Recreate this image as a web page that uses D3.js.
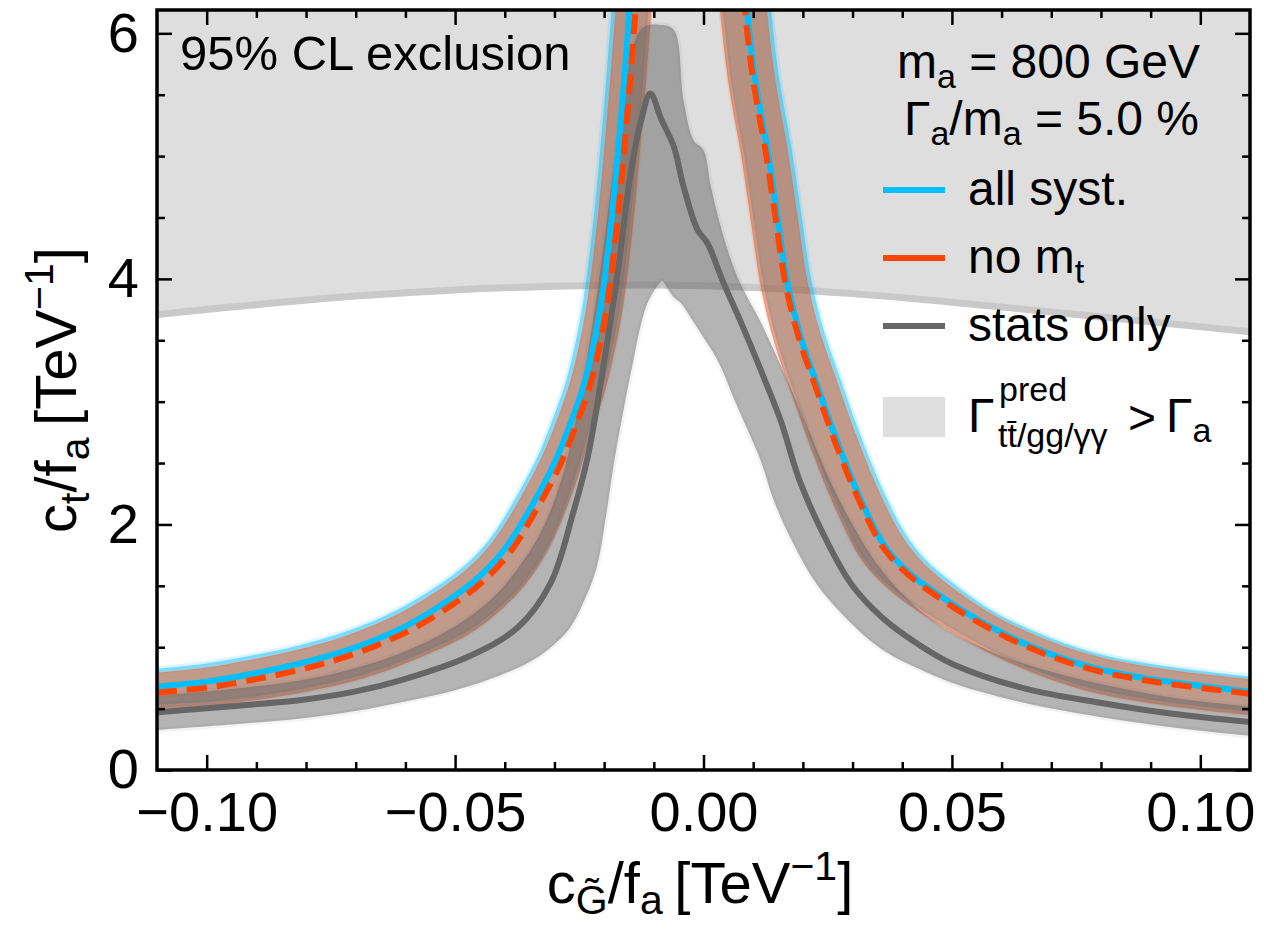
<!DOCTYPE html>
<html>
<head>
<meta charset="utf-8">
<script src="https://cdn.jsdelivr.net/npm/d3@7"></script>
<style>
  html, body { margin: 0; padding: 0; background: #fff; }
  svg text { font-family: "Liberation Sans", Arial, Helvetica, sans-serif; fill: #000; }
</style>
</head>
<body>
<svg id="chart" width="1280" height="928"></svg>
<script>
// ---- axes ----
const xDomain = [-0.11, 0.11];
const yDomain = [0, 6.19];
const xMajorTicks = [-0.10, -0.05, 0.00, 0.05, 0.10];
const xTickLabels = ["\u22120.10", "\u22120.05", "0.00", "0.05", "0.10"];
const xMinorTicks = [-0.09, -0.08, -0.07, -0.06, -0.04, -0.03, -0.02, -0.01,
                     0.01, 0.02, 0.03, 0.04, 0.06, 0.07, 0.08, 0.09];
const yMajorTicks = [0, 2, 4, 6];
const yTickLabels = ["0", "2", "4", "6"];
const yMinorTicks = [0.5, 1, 1.5, 2.5, 3, 3.5, 4.5, 5, 5.5];

// ---- region where the predicted width exceeds Gamma_a (lower boundary) ----
const widthLimit = [[-0.110,3.71],[-0.090,3.79],[-0.070,3.86],[-0.050,3.91],[-0.030,3.94],
  [-0.010,3.95],[0.010,3.93],[0.030,3.88],[0.050,3.81],[0.070,3.73],[0.090,3.65],[0.110,3.57]];

// ---- all syst.: central contour and band edges, c_G/f_a < 0 branch ----
const allSystLeft = [[-0.110,0.68],[-0.100,0.72],[-0.090,0.79],[-0.080,0.88],[-0.070,1.00],
  [-0.060,1.17],[-0.050,1.42],[-0.045,1.58],[-0.040,1.80],[-0.035,2.12],[-0.030,2.50],
  [-0.027,2.80],[-0.024,3.15],[-0.021,3.70],[-0.019,4.30],[-0.0175,4.90],[-0.016,5.60],[-0.0147,6.30]];
const allSystLeftHi = [[-0.112,0.818],[-0.1005,0.866],[-0.0907,0.934],[-0.0809,1.021],[-0.0712,1.139],
  [-0.0617,1.303],[-0.0521,1.540],[-0.0475,1.686],[-0.0429,1.888],[-0.0381,2.194],[-0.0333,2.561],
  [-0.0304,2.852],[-0.0275,3.190],[-0.0246,3.725],[-0.0226,4.316],[-0.0211,4.916],[-0.0196,5.615],[-0.0183,6.31]];
const allSystLeftLo = [[-0.112,0.53],[-0.0994,0.555],[-0.0892,0.605],[-0.0789,0.675],[-0.0685,0.775],
  [-0.0580,0.93],[-0.0475,1.13],[-0.0420,1.29],[-0.0365,1.51],[-0.0312,1.83],[-0.0265,2.30],
  [-0.0235,2.70],[-0.0203,3.105],[-0.0172,3.671],[-0.0152,4.279],[-0.0137,4.886],[-0.0122,5.588],[-0.0109,6.286]];

// ---- all syst., c_G/f_a > 0 branch ----
const allSystRight = [[0.00845,6.311],[0.00986,5.782],[0.01107,5.456],[0.01288,5.049],[0.01489,4.503],
  [0.01690,3.966],[0.01952,3.534],[0.02294,3.127],[0.02757,2.606],[0.03199,2.174],[0.03662,1.816],
  [0.04165,1.596],[0.04769,1.417],[0.05573,1.213],[0.06579,1.010],[0.07787,0.839],[0.08994,0.741],
  [0.10201,0.676],[0.11046,0.635]];
const allSystRightHi = [[0.01326,6.332],[0.01465,5.806],[0.01584,5.488],[0.01765,5.081],[0.01966,4.533],
  [0.02165,4.002],[0.02416,3.588],[0.02751,3.191],[0.03207,2.676],[0.03638,2.257],[0.04072,1.919],
  [0.04477,1.711],[0.04982,1.535],[0.05710,1.322],[0.06678,1.126],[0.07855,0.958],[0.09044,0.862],
  [0.10239,0.797],[0.11200,0.755]];
const allSystRightLo = [[0.00366,6.287],[0.00507,5.755],[0.00631,5.420],[0.00813,5.013],[0.01012,4.470],
  [0.01217,3.925],[0.01489,3.474],[0.01841,3.055],[0.02309,2.527],[0.02766,2.081],[0.03261,1.700],
  [0.03839,1.464],[0.04473,1.282],[0.05354,1.069],[0.06423,0.855],[0.07676,0.678],[0.08913,0.578],
  [0.10141,0.512],[0.11200,0.468]];

// ---- no m_t: central contour and band edges ----
const noMtLeft = [[-0.110,0.631],[-0.0998,0.672],[-0.0898,0.742],[-0.0797,0.832],[-0.0696,0.956],
  [-0.0595,1.129],[-0.0493,1.380],[-0.0442,1.544],[-0.0390,1.770],[-0.0340,2.095],[-0.0289,2.480],
  [-0.0259,2.784],[-0.0228,3.138],[-0.0198,3.692],[-0.0178,4.294],[-0.0163,4.897],[-0.0148,5.598],[-0.0135,6.295]];
const noMtLeftHi = [[-0.112,0.785],[-0.1004,0.832],[-0.0905,0.902],[-0.0807,0.989],[-0.0709,1.108],
  [-0.0613,1.274],[-0.0516,1.513],[-0.0469,1.663],[-0.0423,1.868],[-0.0374,2.177],[-0.0326,2.547],
  [-0.0296,2.841],[-0.0267,3.182],[-0.0238,3.719],[-0.0218,4.313],[-0.0203,4.913],[-0.0188,5.612],[-0.0175,6.31]];
const noMtLeftLo = [[-0.112,0.50],[-0.0994,0.525],[-0.0892,0.575],[-0.0789,0.645],[-0.0685,0.745],
  [-0.0580,0.90],[-0.0475,1.10],[-0.0420,1.26],[-0.0365,1.48],[-0.0312,1.80],[-0.0260,2.30],
  [-0.0229,2.70],[-0.0197,3.105],[-0.0166,3.671],[-0.0146,4.279],[-0.0131,4.886],[-0.0116,5.588],[-0.0103,6.286]];
const noMtRight = [[0.00805,6.309],[0.00946,5.780],[0.01066,5.454],[0.01247,5.046],[0.01449,4.501],
  [0.01650,3.963],[0.01913,3.529],[0.02256,3.121],[0.02718,2.600],[0.03163,2.168],[0.03628,1.807],
  [0.04135,1.586],[0.04744,1.403],[0.05555,1.198],[0.06565,0.995],[0.07777,0.823],[0.08988,0.725],
  [0.10195,0.660],[0.11042,0.619]];
const noMtRightHi = [[0.01245,6.328],[0.01384,5.802],[0.01503,5.482],[0.01684,5.075],[0.01887,4.528],
  [0.02087,3.996],[0.02338,3.579],[0.02674,3.181],[0.03133,2.664],[0.03563,2.243],[0.04004,1.902],
  [0.04419,1.689],[0.04936,1.509],[0.05682,1.300],[0.06658,1.102],[0.07841,0.934],[0.09034,0.837],
  [0.10231,0.773],[0.11200,0.730]];
const noMtRightLo = [[0.00306,6.287],[0.00447,5.755],[0.00571,5.420],[0.00753,5.013],[0.00952,4.470],
  [0.01157,3.925],[0.01429,3.474],[0.01781,3.055],[0.02249,2.527],[0.02706,2.081],[0.03201,1.700],
  [0.03779,1.454],[0.04473,1.252],[0.05354,1.039],[0.06423,0.825],[0.07676,0.648],[0.08913,0.548],
  [0.10141,0.482],[0.11200,0.438]];

// ---- stats only: central contour and band edges ----
const statsOnly = [[-0.110,0.47],[-0.095,0.52],[-0.081,0.57],[-0.070,0.64],[-0.061,0.73],[-0.0475,0.92],
  [-0.0374,1.16],[-0.0308,1.52],[-0.0262,2.10],[-0.0233,2.55],[-0.0201,3.30],[-0.0171,4.10],[-0.0147,4.85],
  [-0.0125,5.30],[-0.0107,5.51],[-0.0085,5.30],[-0.0060,5.08],[-0.0040,4.75],[-0.0012,4.40],[0.0008,4.29],
  [0.0040,3.97],[0.0075,3.65],[0.0115,3.26],[0.0155,2.85],[0.0195,2.34],[0.0250,1.85],[0.0300,1.50],
  [0.0360,1.24],[0.0430,1.03],[0.0503,0.86],[0.0650,0.66],[0.0795,0.55],[0.0940,0.46],[0.110,0.39]];
const statsOnlyHi = [[-0.112,0.60],[-0.095,0.66],[-0.081,0.73],[-0.070,0.83],[-0.061,0.95],[-0.050,1.17],
  [-0.042,1.42],[-0.036,1.72],[-0.032,2.00],[-0.028,2.45],[-0.025,3.00],[-0.0225,3.60],[-0.020,4.30],
  [-0.0178,5.00],[-0.0158,5.55],[-0.0140,5.92],[-0.0121,6.05],[-0.0090,6.07],[-0.0060,6.03],[-0.0040,5.45],
  [-0.0020,5.13],[0.0000,5.05],[0.0015,4.75],[0.0040,4.35],[0.0070,4.00],[0.0115,3.65],[0.0155,3.30],
  [0.0200,2.88],[0.0250,2.40],[0.0300,2.00],[0.0360,1.62],[0.0430,1.32],[0.0500,1.12],[0.0600,0.93],
  [0.0700,0.80],[0.0800,0.70],[0.0900,0.62],[0.1000,0.56],[0.1120,0.51]];
const statsOnlyLo = [[-0.112,0.32],[-0.095,0.37],[-0.081,0.42],[-0.070,0.48],[-0.061,0.55],[-0.050,0.65],
  [-0.041,0.77],[-0.035,0.88],[-0.031,0.99],[-0.027,1.15],[-0.024,1.38],[-0.0215,1.65],[-0.0195,2.10],
  [-0.0181,2.48],[-0.0161,2.93],[-0.0141,3.34],[-0.0127,3.61],[-0.0113,3.80],[-0.0095,3.93],[-0.0083,3.98],
  [-0.0072,3.92],[-0.0060,3.85],[-0.0045,3.80],[-0.0025,3.68],[-0.0006,3.56],[0.0028,3.34],[0.0068,2.96],
  [0.0115,2.52],[0.0141,2.20],[0.0180,1.85],[0.0230,1.50],[0.0296,1.20],[0.0360,0.98],[0.0430,0.83],
  [0.0500,0.71],[0.0600,0.59],[0.0700,0.50],[0.0800,0.43],[0.0900,0.37],[0.1000,0.32],[0.1120,0.27]];

// ---- legend ----
const legendLabels = ["all syst.", "no m", "stats only"];
const legendColors = ["#00bfff", "#ff4500", "#666666"];

// ================= drawing =================
const svg = d3.select("#chart");
const x = d3.scaleLinear().domain(xDomain).range([157, 1250]);
const y = d3.scaleLinear().domain(yDomain).range([770, 10]);

const curve = d3.line().x(d => x(d[0])).y(d => y(d[1])).curve(d3.curveCatmullRom.alpha(0.5));
const bandPath = (hi, lo) => curve(hi) + curve(lo.slice().reverse()).replace(/^M/, "L") + "Z";

svg.append("defs").append("clipPath").attr("id", "plotClip")
  .append("rect").attr("x", 157).attr("y", 10).attr("width", 1093).attr("height", 760);
const plot = svg.append("g").attr("clip-path", "url(#plotClip)");

// excluded region (predicted width above Gamma_a)
plot.append("path")
  .attr("d", curve(widthLimit) + `L${x(xDomain[1]) + 5},${y(yDomain[1]) - 5}L${x(xDomain[0]) - 5},${y(yDomain[1]) - 5}Z`)
  .attr("fill", "#dedede");
plot.append("path").attr("d", curve(widthLimit))
  .attr("fill", "none").attr("stroke", "#c9c9c9").attr("stroke-width", 7);

// all syst. bands
[[allSystLeftHi, allSystLeftLo], [allSystRightHi, allSystRightLo]].forEach(([hi, lo]) => {
  plot.append("path").attr("d", bandPath(hi, lo))
    .attr("fill", "#00bfff").attr("fill-opacity", 0.45)
    .attr("stroke", "#00bfff").attr("stroke-opacity", 0.15).attr("stroke-width", 5);
});
// no m_t bands
[[noMtLeftHi, noMtLeftLo], [noMtRightHi, noMtRightLo]].forEach(([hi, lo]) => {
  plot.append("path").attr("d", bandPath(hi, lo))
    .attr("fill", "#ff4500").attr("fill-opacity", 0.45)
    .attr("stroke", "#ff4500").attr("stroke-opacity", 0.1).attr("stroke-width", 3);
});
// stats-only band
plot.append("path").attr("d", bandPath(statsOnlyHi, statsOnlyLo))
  .attr("fill", "#606060").attr("fill-opacity", 0.47)
  .attr("stroke", "#606060").attr("stroke-opacity", 0.08).attr("stroke-width", 5);

// central contours
plot.append("path").attr("d", curve(statsOnly))
  .attr("fill", "none").attr("stroke", "#666666").attr("stroke-width", 6);
[allSystLeft, allSystRight].forEach(d => {
  plot.append("path").attr("d", curve(d))
    .attr("fill", "none").attr("stroke", "#00bfff").attr("stroke-width", 6);
});
[noMtLeft, noMtRight].forEach(d => {
  plot.append("path").attr("d", curve(d))
    .attr("fill", "none").attr("stroke", "#ff4500").attr("stroke-width", 6)
    .attr("stroke-dasharray", "20 10");
});

// ---- axes: inward ticks on all four sides ----
function styleAxis(g) {
  g.select(".domain").remove();
  g.selectAll(".tick line").attr("stroke", "#000").attr("stroke-width", 2.5);
  g.selectAll(".tick text").style("font-size", "56px").attr("fill", "#000");
}
svg.append("g").attr("transform", "translate(0,770)")
  .call(d3.axisBottom(x).tickValues(xMajorTicks).tickSize(-15).tickPadding(21)
    .tickFormat((d, i) => xTickLabels[i])).call(styleAxis);
svg.append("g").attr("transform", "translate(0,770)")
  .call(d3.axisBottom(x).tickValues(xMinorTicks).tickSize(-8).tickFormat("")).call(styleAxis);
svg.append("g").attr("transform", "translate(0,10)")
  .call(d3.axisTop(x).tickValues(xMajorTicks).tickSize(-15).tickFormat("")).call(styleAxis);
svg.append("g").attr("transform", "translate(0,10)")
  .call(d3.axisTop(x).tickValues(xMinorTicks).tickSize(-8).tickFormat("")).call(styleAxis);
svg.append("g").attr("transform", "translate(157,0)")
  .call(d3.axisLeft(y).tickValues(yMajorTicks).tickSize(-15).tickPadding(18)
    .tickFormat((d, i) => yTickLabels[i])).call(styleAxis);
svg.append("g").attr("transform", "translate(157,0)")
  .call(d3.axisLeft(y).tickValues(yMinorTicks).tickSize(-8).tickFormat("")).call(styleAxis);
svg.append("g").attr("transform", "translate(1250,0)")
  .call(d3.axisRight(y).tickValues(yMajorTicks).tickSize(-15).tickFormat("")).call(styleAxis);
svg.append("g").attr("transform", "translate(1250,0)")
  .call(d3.axisRight(y).tickValues(yMinorTicks).tickSize(-8).tickFormat("")).call(styleAxis);

svg.append("rect").attr("x", 157).attr("y", 10).attr("width", 1093).attr("height", 760)
  .attr("fill", "none").attr("stroke", "#000").attr("stroke-width", 3.5);

// ---- axis titles ----
const xt = svg.append("text").attr("x", 700).attr("y", 903)
  .attr("text-anchor", "middle").style("font-size", "58px");
xt.append("tspan").text("c");
xt.append("tspan").attr("dy", 11).style("font-size", "41px").text("G\u0303");
xt.append("tspan").attr("dy", -11).text("/f");
xt.append("tspan").attr("dy", 11).style("font-size", "41px").text("a");
xt.append("tspan").attr("dy", -11).text("\u2009[TeV");
xt.append("tspan").attr("dy", -23).style("font-size", "41px").text("\u22121");
xt.append("tspan").attr("dy", 23).text("]");

const yt = svg.append("text").attr("transform", "translate(76,390) rotate(-90)")
  .attr("text-anchor", "middle").style("font-size", "58px");
yt.append("tspan").text("c");
yt.append("tspan").attr("dy", 13).style("font-size", "41px").text("t");
yt.append("tspan").attr("dy", -13).text("/f");
yt.append("tspan").attr("dy", 13).style("font-size", "41px").text("a");
yt.append("tspan").attr("dy", -13).text("\u2009[TeV");
yt.append("tspan").attr("dy", -23).style("font-size", "41px").text("\u22121");
yt.append("tspan").attr("dy", 23).text("]");

// ---- annotations ----
svg.append("text").attr("x", 180).attr("y", 70).style("font-size", "49px").text("95% CL exclusion");

const m1 = svg.append("text").attr("x", 1200).attr("y", 78).attr("text-anchor", "end").style("font-size", "48px");
m1.append("tspan").text("m");
m1.append("tspan").attr("dy", 10).style("font-size", "34px").text("a");
m1.append("tspan").attr("dy", -10).text(" = 800 GeV");

const m2 = svg.append("text").attr("x", 1199).attr("y", 135).attr("text-anchor", "end").style("font-size", "48px");
m2.append("tspan").text("\u0393");
m2.append("tspan").attr("dy", 10).style("font-size", "34px").text("a");
m2.append("tspan").attr("dy", -10).text("/m");
m2.append("tspan").attr("dy", 10).style("font-size", "34px").text("a");
m2.append("tspan").attr("dy", -10).text(" = 5.0 %");

// ---- legend ----
const legendY = [190, 258, 326];
legendLabels.forEach((lab, i) => {
  svg.append("line").attr("x1", 883).attr("x2", 945).attr("y1", legendY[i]).attr("y2", legendY[i])
    .attr("stroke", legendColors[i]).attr("stroke-width", 6);
  const t = svg.append("text").attr("x", 968).attr("y", legendY[i] + 15).style("font-size", "48px");
  t.append("tspan").text(lab);
  if (i === 1) t.append("tspan").attr("dy", 10).style("font-size", "34px").text("t");
});
svg.append("rect").attr("x", 883).attr("y", 397).attr("width", 62).attr("height", 40).attr("fill", "#dedede");
svg.append("text").attr("x", 968).attr("y", 432).style("font-size", "48px").text("\u0393");
svg.append("text").attr("x", 999).attr("y", 401).style("font-size", "34px").text("pred");
svg.append("text").attr("x", 998).attr("y", 447).style("font-size", "34px").text("tt\u0304/gg/\u03b3\u03b3");
svg.append("text").attr("x", 1128).attr("y", 434).style("font-size", "48px").text(">");
const ga = svg.append("text").attr("x", 1166).attr("y", 432).style("font-size", "48px");
ga.append("tspan").text("\u0393");
ga.append("tspan").attr("dy", 10).style("font-size", "34px").text("a");
</script>
</body>
</html>
